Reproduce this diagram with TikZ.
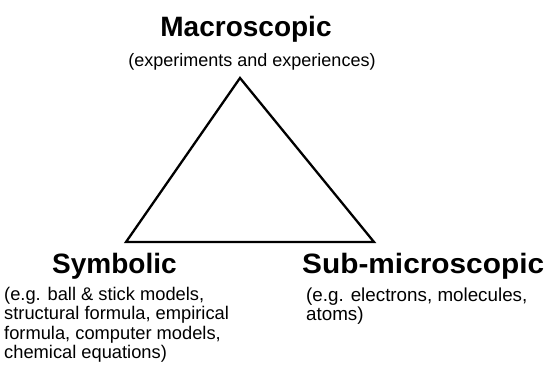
\documentclass[tikz,border=0pt]{standalone}
\usepackage{fontspec}
\setmainfont{Liberation Sans}
\begin{document}
\begin{tikzpicture}[x=1pt,y=-1pt,
  heading/.style={font=\fontsize{28}{30}\selectfont\bfseries, inner sep=0pt},
  desc/.style={font=\fontsize{18.3}{19.6}\selectfont, inner sep=0pt, align=left},
  sub/.style={font=\fontsize{18}{19}\selectfont, inner sep=0pt},
  edge/.style={line width=2.3pt, line join=miter}]
\useasboundingbox (0,0) rectangle (544,368);
\coordinate (top) at (240,78);
\coordinate (bl) at (126,242);
\coordinate (br) at (374,242);
\draw[edge] (top) -- (bl) -- (br) -- cycle;
\node[heading, anchor=base] (macro) at (246,36) {Macroscopic};
\node[sub, anchor=base] (macrod) at (252,66) {(experiments and experiences)};
\node[heading, anchor=base west] (sym) at (52,273) {Symbolic};
\node[heading, anchor=base west] (subm) at (302,273) {\scalebox{1.065}[1]{Sub-microscopic}};
\node[desc, anchor=north west] (symd) at (4,286.6) {(e.g. ball \& stick models,\\structural formula, empirical\\formula, computer models,\\chemical equations)};
\node[desc, font=\fontsize{18.8}{19.6}\selectfont, anchor=north west] (submd) at (306,287.3) {(e.g. electrons, molecules,\\atoms)};
\end{tikzpicture}
\end{document}
